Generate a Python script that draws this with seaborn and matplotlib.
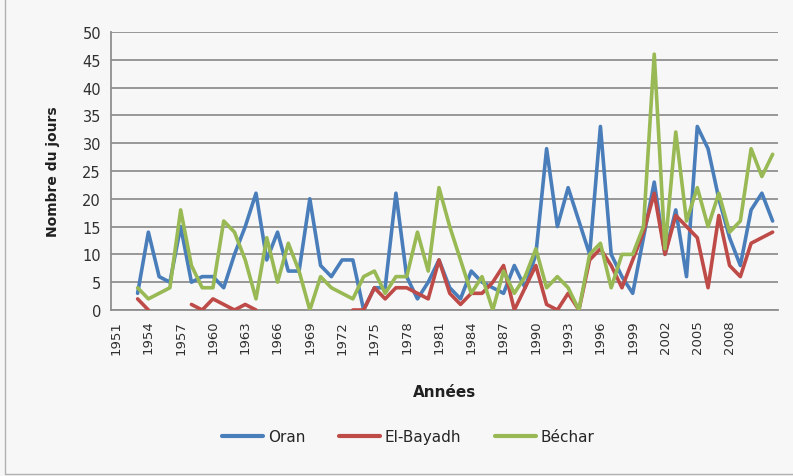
import numpy as np
import pandas as pd
import seaborn as sns
import matplotlib.pyplot as plt
from matplotlib.lines import Line2D

# Données : nombre de jours par an (1951-2012), NaN = pas de mesure
annees = list(range(1951, 2013))

oran = [np.nan, np.nan, 3, 14, 6, 5, 15, 5, 6, 6,
        4, 10, 15, 21, 9, 14, 7, 7, 20, 8,
        6, 9, 9, 0, 4, 4, 21, 6, 2, 5,
        9, 4, 2, 7, 5, 4, 3, 8, 4, 10,
        29, 15, 22, 16, 10, 33, 10, 6, 3, 13,
        23, 10, 18, 6, 33, 29, 20, 13, 8, 18,
        21, 16]

el_bayadh = [np.nan, np.nan, 2, 0, np.nan, np.nan, np.nan, 1, 0, 2,
             1, 0, 1, 0, np.nan, np.nan, np.nan, np.nan, np.nan, np.nan,
             np.nan, np.nan, 0, 0, 4, 2, 4, 4, 3, 2,
             9, 3, 1, 3, 3, 5, 8, 0, 4, 8,
             1, 0, 3, 0, 9, 11, 8, 4, 9, 14,
             21, 10, 17, 15, 13, 4, 17, 8, 6, 12,
             13, 14]

bechar = [np.nan, np.nan, 4, 2, 3, 4, 18, 8, 4, 4,
          16, 14, 9, 2, 13, 5, 12, 7, 0, 6,
          4, 3, 2, 6, 7, 3, 6, 6, 14, 7,
          22, 15, 9, 3, 6, 0, 7, 3, 6, 11,
          4, 6, 4, 0, 10, 12, 4, 10, 10, 15,
          46, 11, 32, 16, 22, 15, 21, 14, 16, 29,
          24, 28]

stations = ['Oran', 'El-Bayadh', 'Béchar']
couleurs = ['#4a7ebb', '#be4b48', '#98b954']
etiquettes_x = list(range(1951, 2009, 3))

# Table longue, avec un numéro de segment pour garder les trous
lignes = []
for nom, serie in zip(stations, [oran, el_bayadh, bechar]):
    seg = 0
    for an, v in zip(annees, serie):
        if np.isnan(v):
            seg += 1
            continue
        lignes.append({'annee': an, 'jours': v, 'station': nom, 'segment': f'{nom}_{seg}'})
df = pd.DataFrame(lignes)

sns.set_style('white')
fond = '#f7f7f7'
fig = plt.figure(figsize=(7.93, 4.77), dpi=100, facecolor=fond)
ax = fig.add_axes([0.1396, 0.348, 0.8415, 0.583], facecolor=fond)

for y in range(0, 51, 5):
    ax.axhline(y, color='#8f8f8f', lw=1.3, zorder=0)

sns.lineplot(data=df, x='annee', y='jours', hue='station', hue_order=stations,
             palette=couleurs, units='segment', estimator=None,
             linewidth=2.6, legend=False, ax=ax, zorder=3)

ax.set_xlim(1950.5, 2012.5)
ax.set_ylim(0, 50)
ax.set_yticks(range(0, 51, 5))
ax.set_xticks(etiquettes_x)
ax.set_xticklabels([str(a) for a in etiquettes_x], rotation=90, fontsize=9.5, color='#303030')
ax.set_xticks(np.arange(1950.5, 2013, 1), minor=True)
ax.tick_params(axis='x', which='major', length=0, pad=7)
ax.tick_params(axis='x', which='minor', length=4, color='#8f8f8f', width=1)
ax.tick_params(axis='y', length=4, color='#8f8f8f', width=1, labelsize=10.5, labelcolor='#303030', pad=3)

for s in ['top', 'right']:
    ax.spines[s].set_visible(False)
for s in ['left', 'bottom']:
    ax.spines[s].set_color('#8f8f8f')
    ax.spines[s].set_linewidth(1.3)

ax.set_ylabel('Nombre du jours', fontsize=10, fontweight='bold', color='#202020', labelpad=16)
ax.set_xlabel('Années', fontsize=11, fontweight='bold', color='#202020', labelpad=22)

poignees = [Line2D([0], [0], color=c, lw=3) for c in couleurs]
fig.legend(poignees, stations, loc='center', bbox_to_anchor=(0.515, 0.082), ncol=3,
           frameon=False, fontsize=11, handlelength=2.7, columnspacing=2.2, handletextpad=0.3)

# cadre du graphique
fig.add_artist(Line2D([0.006, 0.006], [0.004, 1.0], color='#b0b0b0', lw=1, transform=fig.transFigure))
fig.add_artist(Line2D([0.006, 1.0], [0.004, 0.004], color='#b0b0b0', lw=1, transform=fig.transFigure))

fig.savefig('out.png', dpi=100, facecolor=fond)
